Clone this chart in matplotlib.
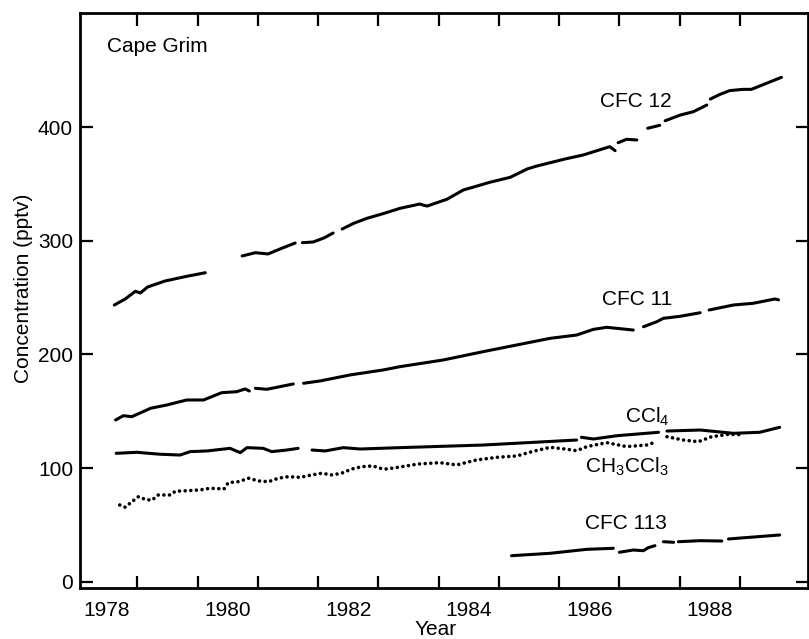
import numpy as np
import matplotlib
matplotlib.use("Agg")
import matplotlib.pyplot as plt

plt.rcParams['font.family'] = ['Liberation Sans', 'DejaVu Sans']
plt.rcParams['mathtext.default'] = 'regular'

nan = np.nan

# ---- data (fractional year, pptv); nan marks a gap in the record ----
cfc12_year = [1978.62, 1978.80, 1978.97, 1979.05, 1979.17, 1979.46, 1979.80, 1980.13, nan,
              1980.74, 1980.96, 1981.17, 1981.40, 1981.62, nan,
              1981.74, 1981.92, 1982.10, 1982.25, nan,
              1982.40, 1982.59, 1982.81, 1983.09, 1983.36, 1983.69, 1983.74, 1983.81, 1984.14,
              1984.41, 1984.85, 1985.19, 1985.47, 1985.63, 1986.10, 1986.40, 1986.84, 1986.93, nan,
              1986.98, 1987.12, 1987.29, nan,
              1987.47, 1987.67, nan,
              1987.76, 1988.01, 1988.23, 1988.45, nan,
              1988.51, 1988.67, 1988.83, 1989.05, 1989.19, 1989.44, 1989.69]
cfc12_ppt = [243.5, 248.8, 255.6, 254.0, 259.3, 264.6, 268.5, 271.9, nan,
             286.6, 289.5, 288.4, 293.4, 298.0, nan,
             298.3, 298.9, 302.5, 306.8, nan,
             310.3, 315.3, 319.7, 324.0, 328.5, 332.3, 331.4, 330.5, 336.5,
             344.6, 351.4, 355.8, 363.1, 365.7, 371.9, 375.4, 382.7, 379.2, nan,
             386.2, 389.2, 388.6, nan,
             398.9, 401.5, nan,
             405.5, 410.5, 413.5, 419.3, nan,
             424.6, 428.7, 432.0, 433.1, 433.1, 438.4, 443.7]

cfc11_year = [1978.64, 1978.77, 1978.91, 1979.22, 1979.49, 1979.82, 1980.10, 1980.40, 1980.65,
              1980.79, 1980.86, nan,
              1980.96, 1981.15, 1981.59, nan,
              1981.76, 1982.03, 1982.53, 1983.08, 1983.36, 1984.08, 1984.74, 1985.30, 1985.85,
              1986.29, 1986.57, 1986.79, 1987.23, nan,
              1987.40, 1987.62, 1987.73, 1988.00, 1988.34, nan,
              1988.49, 1988.89, 1989.22, 1989.58, 1989.64]
cfc11_ppt = [142.4, 146.2, 145.3, 152.7, 155.6, 160.0, 160.0, 166.4, 167.3,
             169.7, 167.9, nan,
             170.3, 169.4, 174.1, nan,
             174.7, 176.7, 182.0, 186.4, 189.3, 195.2, 202.5, 208.4, 214.2,
             217.1, 222.1, 223.9, 221.5, nan,
             224.4, 228.8, 231.8, 233.5, 236.7, nan,
             239.1, 243.5, 245.0, 248.8, 248.0]

ccl4_year = [1978.65, 1978.99, 1979.38, 1979.71, 1979.88, 1980.16, 1980.54, 1980.71, 1980.82,
             1981.09, 1981.23, 1981.48, 1981.67, nan,
             1981.90, 1982.12, 1982.42, 1982.70, 1983.36, 1984.74, 1986.29, nan,
             1986.37, 1986.57, 1986.96, 1987.65, nan,
             1987.79, 1988.34, 1988.89, 1989.33, 1989.66]
ccl4_ppt = [113.1, 114.0, 112.3, 111.6, 114.6, 115.2, 117.5, 113.7, 118.1,
            117.5, 114.6, 116.0, 117.5, nan,
            116.0, 115.2, 118.1, 116.9, 118.1, 120.4, 124.8, nan,
            127.2, 125.7, 128.6, 131.6, nan,
            132.7, 133.6, 130.7, 131.6, 136.0]

ch3ccl3_year = [1978.71, 1978.80, 1978.90, 1979.02, 1979.13, 1979.24, 1979.35, 1979.55, 1979.63,
                1979.85, 1980.04, 1980.21, 1980.44, 1980.51, 1980.68, 1980.85, 1981.01, 1981.18,
                1981.34, 1981.51, 1981.70, 1981.90, 1982.06, 1982.23, 1982.39, 1982.56, 1982.73,
                1982.91, 1983.03, 1983.14, 1983.36, 1983.66, 1984.02, 1984.30, 1984.63, 1984.97,
                1985.30, 1985.55, 1985.85, 1986.13, 1986.29, 1986.46, 1986.79, 1987.12, 1987.45,
                1987.59, nan,
                1987.79, 1988.06, 1988.31, 1988.53, 1988.81, 1989.05]
ch3ccl3_ppt = [67.7, 65.7, 70.1, 75.0, 72.7, 71.8, 76.5, 76.5, 79.7,
               80.3, 80.9, 82.4, 81.8, 87.3, 88.2, 91.2, 88.8, 88.2,
               91.2, 92.6, 92.0, 94.1, 95.6, 94.1, 95.6, 99.3, 101.4,
               102.0, 100.0, 99.3, 101.1, 103.7, 104.9, 102.9, 107.3, 109.6,
               110.8, 114.6, 118.4, 116.7, 115.4, 119.0, 122.5, 119.0, 120.4,
               122.8, nan,
               127.7, 124.8, 123.3, 127.7, 129.8, 129.5]

cfc113_year = [1985.21, 1985.85, 1986.46, 1986.90, nan,
               1987.00, 1987.23, 1987.40, 1987.48, 1987.59, nan,
               1987.73, 1987.90, nan,
               1987.98, 1988.34, 1988.70, nan,
               1988.81, 1989.17, 1989.66]
cfc113_ppt = [23.1, 25.2, 28.7, 29.6, nan,
              26.1, 28.1, 27.5, 30.2, 31.9, nan,
              35.4, 34.9, nan,
              35.4, 36.3, 36.0, nan,
              37.8, 39.3, 41.3]

year_labels = ['1978', '1980', '1982', '1984', '1986', '1988']
year_label_pos = [1978.5, 1980.5, 1982.5, 1984.5, 1986.5, 1988.5]
year_ticks = list(range(1979, 1990))
conc_ticks = [0, 100, 200, 300, 400]

# ---- figure ----
fig = plt.figure(figsize=(8.09, 6.39), dpi=100)
ax = fig.add_axes([80 / 809, 1 - 588 / 639, 728 / 809, 575.3 / 639])

lw = 2.2
ax.plot(cfc12_year, cfc12_ppt, color='black', lw=lw, solid_capstyle='round')
ax.plot(cfc11_year, cfc11_ppt, color='black', lw=lw, solid_capstyle='round')
ax.plot(ccl4_year, ccl4_ppt, color='black', lw=lw, solid_capstyle='round')
ax.plot(cfc113_year, cfc113_ppt, color='black', lw=lw, solid_capstyle='round')
ax.plot(ch3ccl3_year, ch3ccl3_ppt, color='black', lw=2.6,
        linestyle=(0, (0.01, 1.55)), dash_capstyle='round')

ax.set_xlim(1978.05, 1990.13)
ax.set_ylim(-5.3, 500.5)

ax.set_xticks(year_label_pos)
ax.set_xticklabels(year_labels)
ax.set_xticks(year_ticks, minor=True)
ax.tick_params(axis='x', which='major', length=0, pad=9, labelsize=15)
ax.tick_params(axis='x', which='minor', direction='in', length=9, width=1.6,
               top=True, bottom=True)
ax.set_yticks(conc_ticks)
ax.tick_params(axis='y', which='major', direction='in', length=9, width=1.6,
               left=True, right=True, labelsize=15, pad=5)

for s in ax.spines.values():
    s.set_linewidth(2.0)

ax.text(-0.077, 0.521, 'Concentration (pptv)', transform=ax.transAxes,
        rotation=90, ha='center', va='center', fontsize=15)
ax.text(0.488, -0.072, 'Year', transform=ax.transAxes,
        ha='center', va='center', fontsize=15)
ax.text(0.037, 0.942, 'Cape Grim', transform=ax.transAxes,
        ha='left', va='center', fontsize=15)

ax.text(1987.28, 422, 'CFC 12', ha='center', va='center', fontsize=15)
ax.text(1987.29, 248, 'CFC 11', ha='center', va='center', fontsize=15)
ax.text(1987.46, 145, 'CCl$_4$', ha='center', va='center', fontsize=15)
ax.text(1987.13, 101.4, 'CH$_3$CCl$_3$', ha='center', va='center', fontsize=15)
ax.text(1987.11, 51, 'CFC 113', ha='center', va='center', fontsize=15)

fig.savefig('out.png', dpi=100)
